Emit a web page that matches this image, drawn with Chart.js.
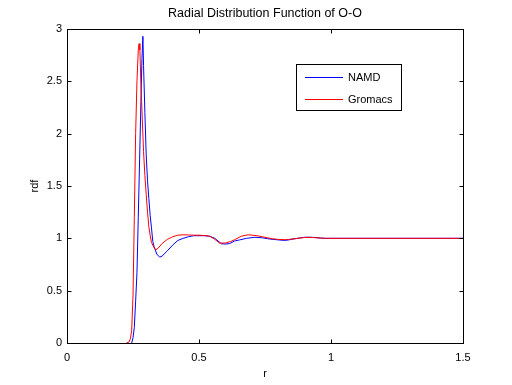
<!DOCTYPE html>
<html>
<head>
<meta charset="utf-8">
<script src="https://cdn.jsdelivr.net/npm/chart.js@4.4.1/dist/chart.umd.min.js"></script>
<style>
    body { margin: 0; background: #fff; }
    #rdfChart { display: block; }
</style>
</head>
<body>
<canvas id="rdfChart" width="512" height="385"></canvas>
<script>
const COLORS = {
    Namd : '#0000ff',
    Gromacs : '#ff0000',
    Axis : '#000000'
};

const FONT = 'Liberation Sans, Arial, Helvetica, sans-serif';
const TITLE = 'Radial Distribution Function of O-O';

const X_TICKS = [0, 0.5, 1, 1.5];
const Y_TICKS = [0, 0.5, 1, 1.5, 2, 2.5, 3];

// NAMD
const namdR = [0.245, 0.25, 0.255, 0.26, 0.265, 0.27, 0.275, 0.28, 0.284, 0.2875,
    0.29, 0.295, 0.30, 0.305, 0.31, 0.315, 0.32, 0.325, 0.33, 0.34, 0.351, 0.36,
    0.38, 0.40, 0.42, 0.44, 0.46, 0.48, 0.50, 0.52, 0.54, 0.56, 0.585, 0.60, 0.616,
    0.635, 0.654, 0.68, 0.711, 0.74, 0.761, 0.78, 0.80, 0.825, 0.84, 0.86, 0.88,
    0.90, 0.92, 0.94, 0.96, 0.977, 1.0, 1.5];
const namdG = [0, 0.05, 0.15, 0.4, 0.67, 1.2, 1.75, 2.3, 2.72, 2.93,
    2.65, 2.2, 1.8, 1.55, 1.38, 1.22, 1.1, 0.97, 0.92, 0.85, 0.82, 0.83,
    0.88, 0.935, 0.98, 1.0, 1.015, 1.025, 1.025, 1.025, 1.02, 1.0, 0.948, 0.945, 0.95,
    0.975, 0.985, 1.0, 1.01, 1.005, 0.996, 0.99, 0.985, 0.98, 0.985, 0.995, 1.003,
    1.01, 1.01, 1.008, 1.003, 1.0, 1.0, 1.0];

// Gromacs
const gromacsR = [0.225, 0.235, 0.24, 0.245, 0.25, 0.255, 0.26, 0.265, 0.27, 0.273,
    0.276, 0.28, 0.285, 0.29, 0.295, 0.30, 0.305, 0.31, 0.315, 0.32, 0.33, 0.336,
    0.345, 0.36, 0.38, 0.40, 0.42, 0.44, 0.46, 0.48, 0.50, 0.53, 0.545, 0.56, 0.578,
    0.60, 0.62, 0.635, 0.66, 0.686, 0.72, 0.74, 0.76, 0.78, 0.80, 0.825, 0.84,
    0.86, 0.88, 0.90, 0.92, 0.94, 0.96, 0.98, 1.0, 1.5];
const gromacsG = [0, 0.01, 0.04, 0.12, 0.45, 1.2, 2.0, 2.5, 2.8, 2.86,
    2.8, 2.47, 2.15, 1.83, 1.6, 1.42, 1.25, 1.11, 1.03, 0.96, 0.91, 0.89,
    0.905, 0.95, 0.99, 1.015, 1.03, 1.034, 1.032, 1.03, 1.03, 1.025, 1.015, 0.99, 0.955,
    0.955, 0.97, 0.987, 1.02, 1.034, 1.025, 1.015, 1.005, 0.995, 0.99, 0.987, 0.99,
    0.995, 1.002, 1.008, 1.01, 1.006, 1.003, 1.0, 1.0, 1.0];

const LEGEND_COLORS = [COLORS.Namd, COLORS.Gromacs];

function toPoints(xs, ys){
    return xs.map((x, i) => ({x: x, y: ys[i]}));
}

// title, box round the plot with matlab style ticks pointing inwards, legend
const axesBox = {
    id: 'axesBox',
    afterDraw(chart){
        let ctx = chart.ctx;
        let area = chart.chartArea;
        let xs = chart.scales.x;
        let ys = chart.scales.y;
        let l = Math.round(area.left) + 0.5;
        let r = Math.round(area.right) + 0.5;
        let t = Math.round(area.top) + 0.5;
        let b = Math.round(area.bottom) + 0.5;
        let len = 4;
        ctx.save();

        ctx.fillStyle = COLORS.Axis;
        ctx.font = '12.5px ' + FONT;
        ctx.textAlign = 'center';
        ctx.textBaseline = 'middle';
        ctx.fillText(TITLE, (area.left + area.right) / 2, 14);

        ctx.strokeStyle = COLORS.Axis;
        ctx.lineWidth = 1;
        ctx.strokeRect(l, t, r - l, b - t);
        ctx.beginPath();
        X_TICKS.forEach(v => {
            let px = Math.round(xs.getPixelForValue(v)) + 0.5;
            ctx.moveTo(px, b); ctx.lineTo(px, b - len);
            ctx.moveTo(px, t); ctx.lineTo(px, t + len);
        });
        Y_TICKS.forEach(v => {
            let py = Math.round(ys.getPixelForValue(v)) + 0.5;
            ctx.moveTo(l, py); ctx.lineTo(l + len, py);
            ctx.moveTo(r, py); ctx.lineTo(r - len, py);
        });
        ctx.stroke();

        // legend
        let box = {x: 296.5, y: 64.5, w: 105, h: 46};
        ctx.fillStyle = '#fff';
        ctx.fillRect(box.x, box.y, box.w, box.h);
        ctx.strokeRect(box.x, box.y, box.w, box.h);
        ctx.font = '11px ' + FONT;
        ctx.textAlign = 'left';
        chart.data.datasets.forEach((ds, i) => {
            let y = 77 + i * 22;
            ctx.fillStyle = LEGEND_COLORS[i];
            ctx.fillRect(305, y, 38, 1);
            ctx.fillStyle = COLORS.Axis;
            ctx.fillText(ds.label, 348, y + 0.5);
        });
        ctx.restore();
    }
};

let rdfData = {
    datasets: [
        {
            label: 'NAMD',
            data: toPoints(namdR, namdG),
            borderColor: COLORS.Namd,
            borderWidth: 1,
            pointRadius: 0,
            tension: 0,
            order: 1
        },
        {
            label: 'Gromacs',
            data: toPoints(gromacsR, gromacsG),
            borderColor: COLORS.Gromacs,
            borderWidth: 1,
            pointRadius: 0,
            tension: 0,
            order: 0
        }
    ]
};

let tickFont = {family: FONT, size: 11};
let plainNumber = v => String(v);

let rdfOptions = {
    responsive: false,
    animation: false,
    devicePixelRatio: 1,
    layout: { padding: {left: 0, right: 49, top: 29, bottom: 0} },
    plugins: {
        legend: { display: false },
        tooltip: { enabled: false },
        title: { display: false }
    },
    scales: {
        x: {
            type: 'linear',
            min: 0,
            max: 1.5,
            afterBuildTicks: scale => { scale.ticks = X_TICKS.map(v => ({value: v})); },
            afterFit: scale => { scale.height = 42; },
            grid: { display: false, drawTicks: false },
            border: { display: false },
            ticks: { color: '#000', font: tickFont, padding: 8, maxRotation: 0, callback: plainNumber },
            title: {
                display: true,
                text: 'r',
                color: '#000',
                font: tickFont,
                padding: {top: 0, bottom: 4}
            }
        },
        y: {
            type: 'linear',
            min: 0,
            max: 3,
            afterBuildTicks: scale => { scale.ticks = Y_TICKS.map(v => ({value: v})); },
            afterFit: scale => { scale.width = 67; },
            grid: { display: false, drawTicks: false },
            border: { display: false },
            ticks: { color: '#000', font: tickFont, padding: 5, callback: plainNumber },
            title: {
                display: true,
                text: 'rdf',
                color: '#000',
                font: tickFont,
                padding: {top: 28, bottom: 0}
            }
        }
    }
};

let rdfChart = new Chart(document.getElementById('rdfChart').getContext('2d'), {
    type: 'line',
    data: rdfData,
    options: rdfOptions,
    plugins: [axesBox]
});
</script>
</body>
</html>
